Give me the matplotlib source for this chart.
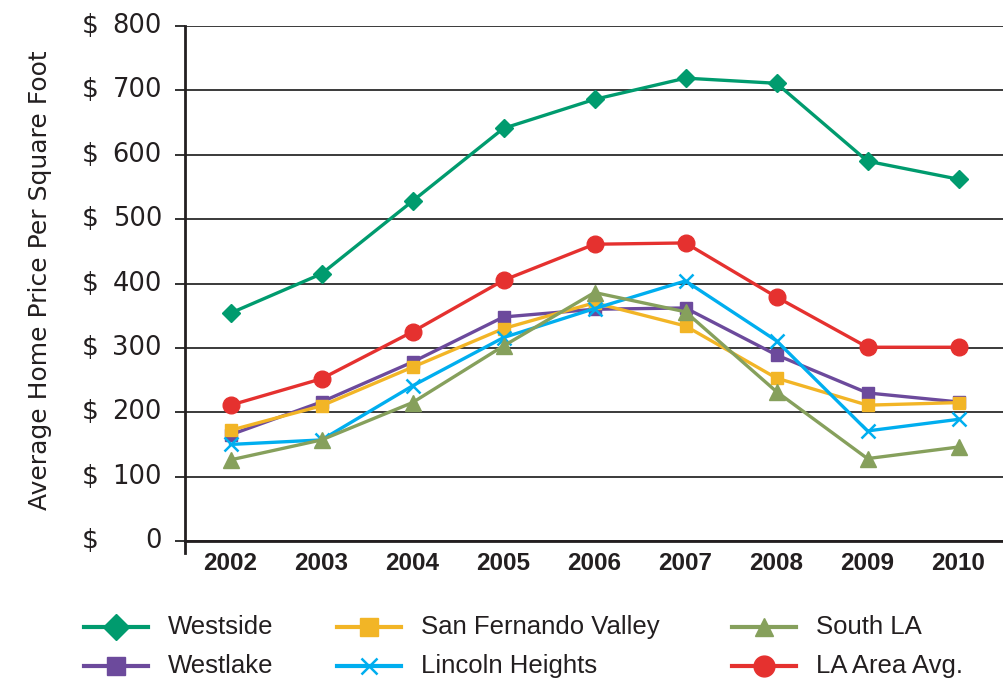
import matplotlib
matplotlib.use("Agg")
import matplotlib.pyplot as plt
from matplotlib.lines import Line2D

years = [2002, 2003, 2004, 2005, 2006, 2007, 2008, 2009, 2010]
westside = [354, 415, 528, 641, 686, 719, 711, 590, 562]
westlake = [165, 216, 278, 348, 360, 362, 289, 230, 216]
san_fernando = [172, 210, 270, 330, 370, 334, 253, 211, 215]
lincoln = [150, 157, 241, 316, 361, 404, 311, 171, 189]
south_la = [126, 157, 215, 303, 386, 356, 232, 128, 146]
la_avg = [211, 252, 325, 405, 461, 463, 379, 301, 301]
yticks = [0, 100, 200, 300, 400, 500, 600, 700, 800]

base = "Liberation Sans"
TXT = "#231F20"
W, H = 1004, 679

fig = plt.figure(figsize=(W / 100, H / 100), dpi=100)
ax = fig.add_axes([185 / W, 138 / H, 1 - 185 / W, (541 - 26) / H])

series = [
    ("Westside", westside, "#009B6E", "D", 9, 13, dict()),
    ("Westlake", westlake, "#6C4A9C", "s", 9, 13, dict()),
    ("San Fernando Valley", san_fernando, "#F2B526", "s", 9, 13, dict()),
    ("Lincoln Heights", lincoln, "#00AEEF", "x", 10, 12, dict(markeredgewidth=1.8)),
    ("South LA", south_la, "#86A05C", "^", 11, 13, dict()),
    ("LA Area Avg.", la_avg, "#E5312F", "o", 12, 15, dict()),
]
for name, vals, col, mk, ms, lms, kw in series:
    ax.plot(years, vals, color=col, marker=mk, markersize=ms, linewidth=2.4,
            markerfacecolor=col, markeredgecolor=col, label=name, zorder=3, **kw)

ax.set_xlim(2001.5, 2010.5)
ax.set_ylim(0, 800)
ax.set_yticks(yticks)
ax.set_yticklabels([])
ax.tick_params(axis="y", direction="out", length=7, width=1.3, color="#222222")
ax.set_xticks(years)
ax.set_xticklabels([str(y) for y in years], fontfamily=base, fontweight="bold",
                   fontsize=17.5, color=TXT)
ax.tick_params(axis="x", length=0, pad=8)
for yv in yticks:
    ax.axhline(yv, color="#3a3a3a", linewidth=1.4, zorder=1)
for s in ["top", "right"]:
    ax.spines[s].set_visible(False)
for s in ["left", "bottom"]:
    ax.spines[s].set_color(TXT)
    ax.spines[s].set_linewidth(2)
ax.plot([0, 0], [0, -0.024], transform=ax.transAxes, color=TXT,
        linewidth=2, clip_on=False)

for yv in yticks:
    ypx = 541 - yv * 515 / 800
    yf = 1 - ypx / H
    fig.text(82 / W, yf, "$", ha="left", va="center", fontsize=19,
             family="DejaVu Sans", color=TXT)
    fig.text(162 / W, yf, str(yv), ha="right", va="center", fontsize=18.5,
             family="DejaVu Sans", color=TXT)

fig.text(40 / W, 1 - 280 / H, "Average Home Price Per Square Foot", rotation=90,
         ha="center", va="center", fontsize=18, family="DejaVu Sans", color=TXT)

# legend (column-major: 3 columns x 2 rows)
cols = [(84, 148, 168), (337, 401, 421), (732, 796, 816)]
rows = [627, 666]
for i, (name, vals, col, mk, ms, lms, kw) in enumerate(series):
    c = cols[i // 2]
    r = rows[i % 2]
    yf = 1 - r / H
    x0, x1 = c[0] / W, c[1] / W
    fig.add_artist(Line2D([x0, x1], [yf, yf], color=col, linewidth=3,
                          transform=fig.transFigure))
    fig.add_artist(Line2D([(x0 + x1) / 2], [yf], color=col, marker=mk,
                          markersize=lms, markerfacecolor=col, markeredgecolor=col,
                          transform=fig.transFigure, **kw))
    fig.text(c[2] / W, yf, name, ha="left", va="center", fontsize=18.5,
             family=base, color=TXT)

fig.savefig("out.png", dpi=100)
